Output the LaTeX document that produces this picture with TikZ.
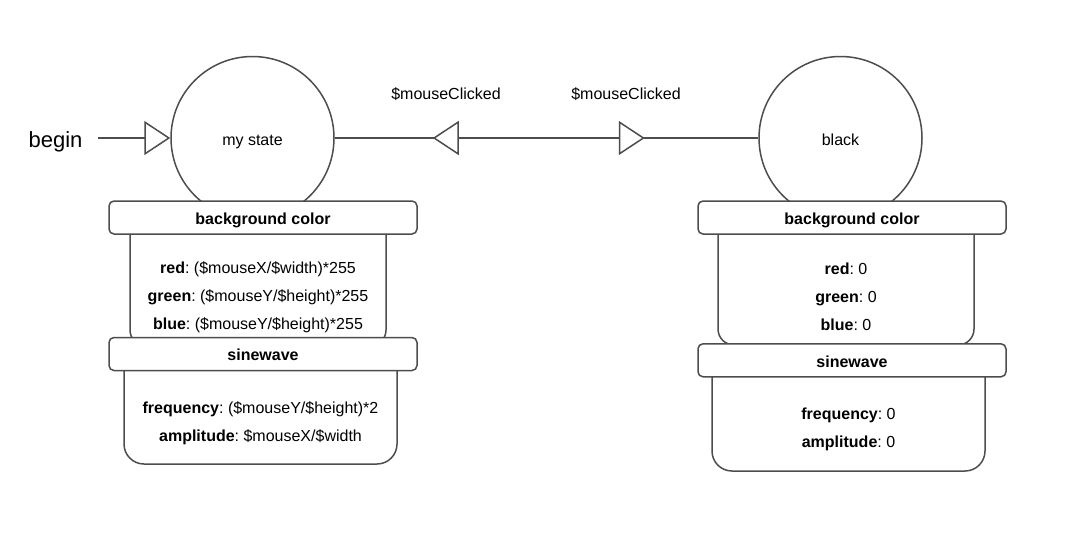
\documentclass[tikz,border=0pt]{standalone}
\usepackage{fontspec}
\setmainfont{Liberation Sans}
\usetikzlibrary{arrows.meta,decorations.markings}
\definecolor{linegrey}{HTML}{4D4D4D}
\frenchspacing
\begin{document}
\begin{tikzpicture}[x=1pt,y=-1pt,
        font=\fontsize{16}{28}\selectfont,
        >={Triangle[length=26pt,width=34pt,fill=white]},
        state/.style={draw=linegrey, line width=1.5pt, circle, minimum size=163pt, inner sep=0pt,
                      fill=white, text height=14pt, text depth=0pt},
        header/.style={draw=linegrey, line width=1.5pt, fill=white, rounded corners=5pt,
                       minimum width=308pt, minimum height=33pt, inner sep=0pt,
                       text height=13.5pt, text depth=0pt, font=\fontsize{16}{20}\selectfont\bfseries},
        body/.style={draw=linegrey, line width=1.5pt, fill=white},
        link/.style={draw=linegrey, line width=1.5pt},
        txt/.style={yshift=-2.5pt}]
        \fill[white] (0,0) rectangle (1092,550); % Baggrund
        \useasboundingbox (0,0) rectangle (1092,550);

        % Tilstande
        \node[state] (mystate) at (252.5,138) {my state};
        \node[state] (black) at (840.5,138) {black};

        % Start og overgange
        \node[txt, font=\fontsize{22}{26}\selectfont] (begin) at (55.5,139) {begin};
        \coordinate (entry) at (98,138);
        \draw[link, ->] (entry) -- (mystate);
        \path[link, postaction={decorate}, decoration={markings,
                mark=at position 98pt with {\arrowreversed{>}},
                mark=at position 310pt with {\arrow{>}}}] (mystate) -- (black);
        \node[yshift=-1pt] (backlabel) at (446,93) {\$mouseClicked};
        \node[yshift=-1pt] (golabel) at (626,93) {\$mouseClicked};

        % my state
        \path[body, rounded corners=16pt] (130,234) -- (130,346) -- (386,346) -- (386,234); % Første krop
        \node[header] (mybg) at (263,217.5) {background color};
        \node[txt, align=center] (mybgvals) at (258,294.3) {\textbf{red}: (\$mouseX/\$width)*255 \\
                \textbf{green}: (\$mouseY/\$height)*255 \\ \textbf{blue}: (\$mouseY/\$height)*255};
        \path[body, rounded corners=20pt] (124,371) -- (124,464) -- (397,464) -- (397,371); % Anden krop
        \node[header] (mysine) at (263,354) {sinewave};
        \node[txt, align=center] (mysinevals) at (260.5,420.4) {\textbf{frequency}: (\$mouseY/\$height)*2 \\
                \textbf{amplitude}: \$mouseX/\$width};

        % black
        \path[body, rounded corners=16pt] (718,234) -- (718,345) -- (974,345) -- (974,234); % Første krop
        \node[header] (blackbg) at (852,217.5) {background color};
        \node[txt, align=center] (blackbgvals) at (846,294.6) {\textbf{red}: 0 \\ \textbf{green}: 0 \\ \textbf{blue}: 0};
        \path[body, rounded corners=20pt] (712,377) -- (712,471) -- (985,471) -- (985,377); % Anden krop
        \node[header] (blacksine) at (852,360.3) {sinewave};
        \node[txt, align=center] (blacksinevals) at (848.5,427) {\textbf{frequency}: 0 \\ \textbf{amplitude}: 0};
    \end{tikzpicture}
\end{document}
